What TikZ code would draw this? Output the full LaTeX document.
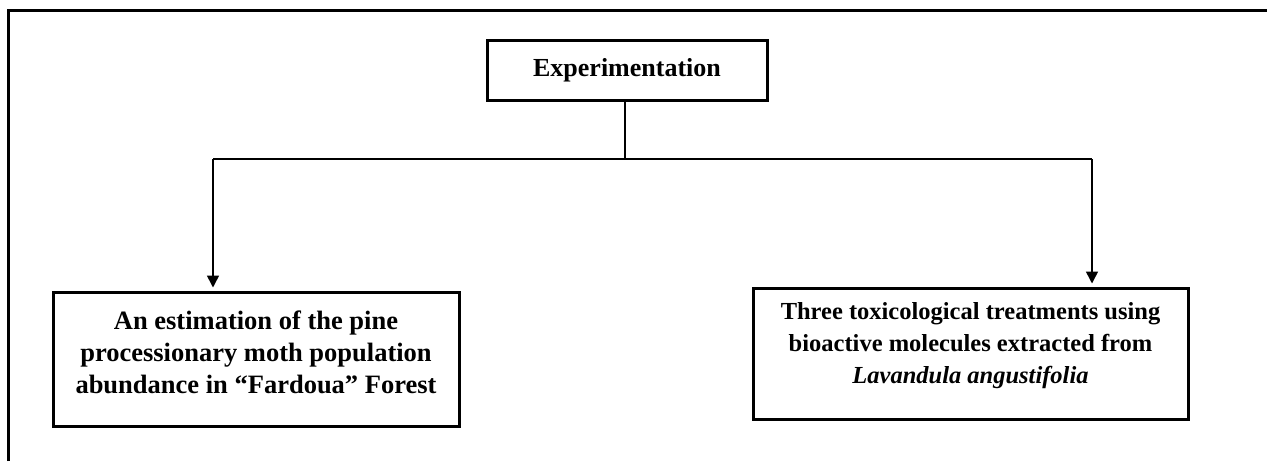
\documentclass[tikz,border=0pt]{standalone}
\usepackage{fontspec}
\setmainfont{Liberation Serif}
\usetikzlibrary{arrows.meta,calc}
\begin{document}
\begin{tikzpicture}[x=1pt,y=-1pt,
  box/.style={draw=black, line width=3pt, rectangle, inner sep=0pt},
  txt/.style={align=center, font=\fontsize{26.5}{32}\selectfont\bfseries, inner sep=0pt},
  txtr/.style={align=center, font=\fontsize{24.5}{32}\selectfont\bfseries, inner sep=0pt},
  conn/.style={draw=black, line width=1.6pt},
  arr/.style={conn, -{Triangle[width=12pt,length=12pt]}, shorten >=3pt},
  frame/.style={draw=black, line width=2.4pt}]
\useasboundingbox (0,0) rectangle (1267,461);
\coordinate (fbl) at (8.5,461);
\coordinate (ftl) at (8.5,10.5);
\coordinate (ftr) at (1267,10.5);
\draw[frame] (fbl) -- (ftl) -- (ftr);

\node[box, txt, font=\fontsize{26}{32}\selectfont\bfseries, minimum width=280pt, minimum height=60pt] (exp) at (627,70) {Experimentation};

\node[box, minimum width=406pt, minimum height=134pt] (left) at (256,359) {};
\node[txt] (lefttext) at (256,352) {An estimation of the pine\\processionary moth population\\abundance in “Fardoua” Forest};

\node[box, minimum width=435pt, minimum height=131pt] (right) at (970.5,353.5) {};
\node[txtr] (righttext) at (970.5,346) {Three toxicological treatments using\\bioactive molecules extracted from\\\textit{Lavandula angustifolia}};

\coordinate (j) at (625,159);
\coordinate (jl) at (213,159);
\coordinate (jr) at (1092,159);
\draw[conn] (exp.south -| j) -- (j);
\draw[conn] (jl) -- (jr);
\draw[arr] (jl) -- (jl |- left.north);
\draw[arr] (jr) -- (jr |- right.north);
\end{tikzpicture}
\end{document}
